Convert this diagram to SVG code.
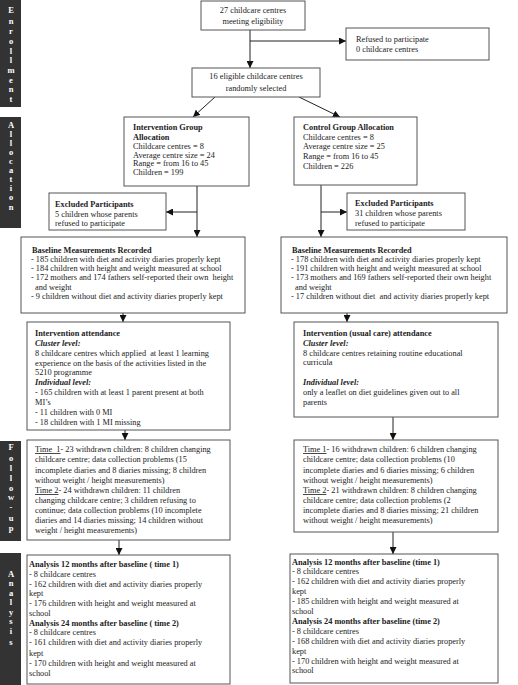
<svg xmlns="http://www.w3.org/2000/svg" width="518" height="685" viewBox="0 0 518 685">
<defs>
<style>
.box{fill:#fff;stroke:#555;stroke-width:1}
.side{fill:#333}
.sl{font-family:"Liberation Serif",serif;font-size:8.5px;font-weight:bold;fill:#fff;text-anchor:middle}
.t{font-family:"Liberation Serif",serif;font-size:8.3px;fill:#222}
.c{text-anchor:middle}
.b{font-weight:bold}
.bi{font-weight:bold;font-style:italic}
.u{text-decoration:underline}
.ln{stroke:#222;stroke-width:1;fill:none}
</style>
<marker id="ah" markerUnits="userSpaceOnUse" markerWidth="8" markerHeight="7" refX="7" refY="3.5" orient="auto">
<path d="M0,0 L7,3.5 L0,7 z" fill="#111"/>
</marker>
</defs>
<rect width="518" height="685" fill="#fff"/>

<g id="side-enrollment">
<rect class="side" x="0" y="0" width="21" height="107"/>
<text class="sl"><tspan x="11" y="13">E</tspan><tspan x="11" y="24">n</tspan><tspan x="11" y="34">r</tspan><tspan x="11" y="44">o</tspan><tspan x="11" y="54">l</tspan><tspan x="11" y="63">l</tspan><tspan x="11" y="73">m</tspan><tspan x="11" y="83">e</tspan><tspan x="11" y="92">n</tspan><tspan x="11" y="102">t</tspan></text>
</g>
<g id="side-allocation">
<rect class="side" x="0" y="117" width="21" height="111"/>
<text class="sl"><tspan x="11" y="128">A</tspan><tspan x="11" y="137">l</tspan><tspan x="11" y="146">l</tspan><tspan x="11" y="155">o</tspan><tspan x="11" y="164">c</tspan><tspan x="11" y="173">a</tspan><tspan x="11" y="182">t</tspan><tspan x="11" y="191">i</tspan><tspan x="11" y="200">o</tspan><tspan x="11" y="210">n</tspan></text>
</g>
<g id="side-followup">
<rect class="side" x="0" y="441" width="21" height="100"/>
<text class="sl"><tspan x="11" y="450">F</tspan><tspan x="11" y="461">o</tspan><tspan x="11" y="471">l</tspan><tspan x="11" y="481">l</tspan><tspan x="11" y="491">o</tspan><tspan x="11" y="500">w</tspan><tspan x="11" y="510">-</tspan><tspan x="11" y="521">u</tspan><tspan x="11" y="531">p</tspan></text>
</g>
<g id="side-analysis">
<rect class="side" x="0" y="553" width="21" height="132"/>
<text class="sl"><tspan x="11" y="577">A</tspan><tspan x="11" y="586">n</tspan><tspan x="11" y="596">a</tspan><tspan x="11" y="605">l</tspan><tspan x="11" y="615">y</tspan><tspan x="11" y="624">s</tspan><tspan x="11" y="634">i</tspan><tspan x="11" y="645">s</tspan></text>
</g>

<g id="connectors">
<line class="ln" x1="250" y1="30" x2="250" y2="68" marker-end="url(#ah)"/>
<line class="ln" x1="250" y1="41" x2="346" y2="41" marker-end="url(#ah)"/>
<line class="ln" x1="215" y1="97" x2="193" y2="117" marker-end="url(#ah)"/>
<line class="ln" x1="299" y1="97" x2="340" y2="117" marker-end="url(#ah)"/>
<line class="ln" x1="197" y1="186" x2="197" y2="237" marker-end="url(#ah)"/>
<line class="ln" x1="197" y1="212" x2="166" y2="212" marker-end="url(#ah)"/>
<line class="ln" x1="321" y1="185" x2="321" y2="237" marker-end="url(#ah)"/>
<line class="ln" x1="321" y1="212" x2="347" y2="212" marker-end="url(#ah)"/>
<line class="ln" x1="123" y1="313" x2="123" y2="322" marker-end="url(#ah)"/>
<line class="ln" x1="347" y1="313" x2="347" y2="322" marker-end="url(#ah)"/>
<line class="ln" x1="125" y1="430" x2="125" y2="440" marker-end="url(#ah)"/>
<line class="ln" x1="393" y1="417" x2="393" y2="440" marker-end="url(#ah)"/>
<line class="ln" x1="119" y1="540" x2="119" y2="555" marker-end="url(#ah)"/>
<line class="ln" x1="393" y1="532" x2="393" y2="554" marker-end="url(#ah)"/>
</g>

<g id="n-eligible">
<rect class="box" x="201" y="1" width="104" height="29"/>
<text class="t c"><tspan x="253" y="13">27 childcare centres</tspan><tspan x="253" y="24">meeting eligibility</tspan></text>
</g>
<g id="n-refused">
<rect class="box" x="346" y="28" width="143" height="32"/>
<text class="t"><tspan x="356" y="42">Refused to participate</tspan><tspan x="356" y="52">0 childcare centres</tspan></text>
</g>
<g id="n-random">
<rect class="box" x="192" y="68" width="128" height="29"/>
<text class="t c"><tspan x="256" y="79">16 eligible childcare centres</tspan><tspan x="256" y="91">randomly selected</tspan></text>
</g>
<g id="n-int-alloc">
<rect class="box" x="124" y="117" width="125" height="69"/>
<text class="t"><tspan class="b" x="133" y="129.5">Intervention Group</tspan><tspan class="b" x="133" y="139.5">Allocation</tspan><tspan x="133" y="149">Childcare centres = 8</tspan><tspan x="133" y="157.5">Average centre size = 24</tspan><tspan x="133" y="166">Range = from 16 to 45</tspan><tspan x="133" y="174.5">Children = 199</tspan></text>
</g>
<g id="n-ctl-alloc">
<rect class="box" x="294" y="117" width="123" height="68"/>
<text class="t"><tspan class="b" x="303" y="129.5">Control Group Allocation</tspan><tspan x="303" y="139.5">Childcare centres = 8</tspan><tspan x="303" y="149">Average centre size = 25</tspan><tspan x="303" y="159">Range = from 16 to 45</tspan><tspan x="303" y="169">Children = 226</tspan></text>
</g>
<g id="n-int-excl">
<rect class="box" x="49" y="193" width="117" height="37"/>
<text class="t"><tspan class="b" x="55" y="207">Excluded Participants</tspan><tspan x="55" y="217">5 children whose parents</tspan><tspan x="55" y="226">refused to participate</tspan></text>
</g>
<g id="n-ctl-excl">
<rect class="box" x="347" y="193" width="118" height="37"/>
<text class="t"><tspan class="b" x="355" y="206">Excluded Participants</tspan><tspan x="355" y="216">31 children whose parents</tspan><tspan x="355" y="226">refused to participate</tspan></text>
</g>
<g id="n-int-base">
<rect class="box" x="21" y="237" width="224" height="76"/>
<text class="t"><tspan class="b" x="32" y="253">Baseline Measurements Recorded</tspan><tspan x="31" y="262">- 185 children with diet and activity diaries properly kept</tspan><tspan x="31" y="271">- 184 children with height and weight measured at school</tspan><tspan x="31" y="280">- 172 mothers and 174 fathers self-reported their own&#160; height</tspan><tspan x="35" y="290">and weight</tspan><tspan x="31" y="299">- 9 children without diet and activity diaries properly kept</tspan></text>
</g>
<g id="n-ctl-base">
<rect class="box" x="281" y="237" width="226" height="76"/>
<text class="t"><tspan class="b" x="292" y="253">Baseline Measurements Recorded</tspan><tspan x="291" y="262">- 178 children with diet and activity diaries properly kept</tspan><tspan x="291" y="271">- 191 children with height and weight measured at school</tspan><tspan x="291" y="280">- 173 mothers and 169 fathers self-reported their own height</tspan><tspan x="295" y="290">and weight</tspan><tspan x="291" y="299">- 17 children without diet&#160; and activity diaries properly kept</tspan></text>
</g>
<g id="n-int-attend">
<rect class="box" x="27" y="322" width="203" height="108"/>
<text class="t"><tspan class="b" x="35" y="336">Intervention attendance</tspan><tspan class="bi" x="35" y="346">Cluster level:</tspan><tspan x="35" y="356">8 childcare centres which applied&#160; at least 1 learning</tspan><tspan x="35" y="366">experience on the basis of the activities listed in the</tspan><tspan x="35" y="375">5210 programme</tspan><tspan class="bi" x="35" y="385">Individual level:</tspan><tspan x="35" y="395">- 165 children with at least 1 parent present at both</tspan><tspan x="35" y="405">MI’s</tspan><tspan x="35" y="415">- 11 children with 0 MI</tspan><tspan x="35" y="425">- 18 children with 1 MI missing</tspan></text>
</g>
<g id="n-ctl-attend">
<rect class="box" x="294" y="322" width="204" height="95"/>
<text class="t"><tspan class="b" x="303" y="336">Intervention (usual care) attendance</tspan><tspan class="bi" x="303" y="346">Cluster level:</tspan><tspan x="303" y="356">8 childcare centres retaining routine educational</tspan><tspan x="303" y="365">curricula</tspan><tspan class="bi" x="303" y="385">Individual level:</tspan><tspan x="303" y="395">only a leaflet on diet guidelines given out to all</tspan><tspan x="303" y="405">parents</tspan></text>
</g>
<g id="n-int-follow">
<rect class="box" x="27" y="440" width="203" height="100"/>
<text class="t"><tspan class="u" x="35" y="452">Time&#160; 1</tspan><tspan>- 23 withdrawn children: 8 children changing</tspan><tspan x="35" y="462">childcare centre; data collection problems (15</tspan><tspan x="35" y="473">incomplete diaries and 8 diaries missing; 8 children</tspan><tspan x="35" y="483">without weight / height measurements)</tspan><tspan class="u" x="35" y="493">Time 2</tspan><tspan>- 24 withdrawn children: 11 children</tspan><tspan x="35" y="503">changing childcare centre; 3 children refusing to</tspan><tspan x="35" y="513">continue; data collection problems (10 incomplete</tspan><tspan x="35" y="523">diaries and 14 diaries missing; 14 children without</tspan><tspan x="35" y="533">weight / height measurements)</tspan></text>
</g>
<g id="n-ctl-follow">
<rect class="box" x="294" y="440" width="204" height="92"/>
<text class="t"><tspan class="u" x="303" y="452">Time 1</tspan><tspan>- 16 withdrawn children: 6 children changing</tspan><tspan x="303" y="462">childcare centre; data collection problems (10</tspan><tspan x="303" y="473">incomplete diaries and 6 diaries missing; 6 children</tspan><tspan x="303" y="483">without weight / height measurements)</tspan><tspan class="u" x="303" y="493">Time 2</tspan><tspan>- 21 withdrawn children: 8 children changing</tspan><tspan x="303" y="503">childcare centre; data collection problems (2</tspan><tspan x="303" y="513">incomplete diaries and 8 diaries missing; 21 children</tspan><tspan x="303" y="523">without weight / height measurements)</tspan></text>
</g>
<g id="n-int-analysis">
<rect class="box" x="27" y="555" width="203" height="129"/>
<text class="t"><tspan class="b" x="29" y="567">Analysis 12 months after baseline ( time 1)</tspan><tspan x="29" y="577">- 8 childcare centres</tspan><tspan x="29" y="587">- 162 children with diet and activity diaries properly</tspan><tspan x="29" y="596">kept</tspan><tspan x="29" y="606">- 176 children with height and weight measured at</tspan><tspan x="29" y="616">school</tspan><tspan class="b" x="29" y="626">Analysis 24 months after baseline ( time 2)</tspan><tspan x="29" y="635">- 8 childcare centres</tspan><tspan x="29" y="645">- 161 children with diet and activity diaries properly</tspan><tspan x="29" y="656">kept</tspan><tspan x="29" y="666">- 170 children with height and weight measured at</tspan><tspan x="29" y="676">school</tspan></text>
</g>
<g id="n-ctl-analysis">
<rect class="box" x="290" y="554" width="208" height="129"/>
<text class="t"><tspan class="b" x="292" y="565">Analysis 12 months after baseline (time 1)</tspan><tspan x="292" y="574">- 8 childcare centres</tspan><tspan x="292" y="584">- 162 children with diet and activity diaries properly</tspan><tspan x="292" y="594">kept</tspan><tspan x="292" y="604">- 185 children with height and weight measured at</tspan><tspan x="292" y="614">school</tspan><tspan class="b" x="292" y="624">Analysis 24 months after baseline (time 2)</tspan><tspan x="292" y="634">- 8 childcare centres</tspan><tspan x="292" y="644">- 168 children with diet and activity diaries properly</tspan><tspan x="292" y="654">kept</tspan><tspan x="292" y="664">- 170 children with height and weight measured at</tspan><tspan x="292" y="673">school</tspan></text>
</g>
</svg>
